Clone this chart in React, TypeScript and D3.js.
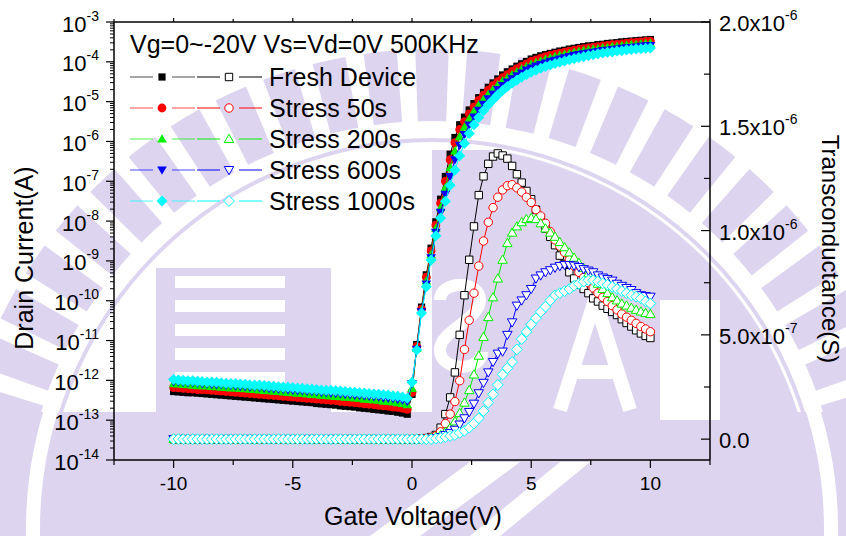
import React from 'react';
import * as d3 from 'd3';

// Gate sweep: -10 V to +10 V in 0.2 V steps (101 points)
const VG_START = -10;
const VG_STEP = 0.2;
const VG_COUNT = 101;

// Drain current, log10(A), one value per gate step
const idFresh = [
  -12.28, -12.29, -12.30, -12.31, -12.31, -12.32, -12.33, -12.34, -12.35, -12.36,
  -12.37, -12.38, -12.39, -12.40, -12.41, -12.42, -12.43, -12.44, -12.45, -12.46,
  -12.47, -12.48, -12.49, -12.50, -12.51, -12.52, -12.53, -12.54, -12.55, -12.56,
  -12.58, -12.59, -12.60, -12.61, -12.62, -12.64, -12.65, -12.66, -12.67, -12.69,
  -12.70, -12.71, -12.73, -12.74, -12.75, -12.77, -12.78, -12.80, -12.82, -12.85,
  -12.35, -11.10, -10.16, -9.35, -8.68, -8.02, -7.45, -6.88, -6.32, -5.90,
  -5.58, -5.39, -5.21, -5.05, -4.90, -4.77, -4.64, -4.53, -4.43, -4.33,
  -4.25, -4.18, -4.11, -4.05, -3.99, -3.93, -3.89, -3.85, -3.82, -3.79,
  -3.76, -3.73, -3.71, -3.68, -3.66, -3.64, -3.62, -3.60, -3.59, -3.57,
  -3.56, -3.54, -3.53, -3.52, -3.50, -3.49, -3.48, -3.47, -3.46, -3.45,
  -3.44,
];
const id50s = [
  -12.18, -12.19, -12.20, -12.21, -12.22, -12.23, -12.23, -12.24, -12.25, -12.26,
  -12.27, -12.28, -12.29, -12.30, -12.31, -12.32, -12.33, -12.34, -12.35, -12.36,
  -12.37, -12.38, -12.39, -12.40, -12.41, -12.42, -12.43, -12.44, -12.45, -12.46,
  -12.47, -12.48, -12.49, -12.50, -12.51, -12.53, -12.54, -12.55, -12.56, -12.57,
  -12.59, -12.60, -12.61, -12.63, -12.64, -12.65, -12.67, -12.68, -12.70, -12.73,
  -12.30, -11.15, -10.21, -9.41, -8.75, -8.10, -7.55, -7.00, -6.46, -6.03,
  -5.70, -5.50, -5.31, -5.13, -4.97, -4.84, -4.71, -4.60, -4.50, -4.40,
  -4.32, -4.24, -4.17, -4.11, -4.05, -3.99, -3.95, -3.91, -3.87, -3.84,
  -3.81, -3.78, -3.76, -3.73, -3.71, -3.69, -3.67, -3.65, -3.63, -3.62,
  -3.60, -3.59, -3.57, -3.56, -3.55, -3.53, -3.52, -3.51, -3.50, -3.49,
  -3.48,
];
const id200s = [
  -12.08, -12.09, -12.10, -12.11, -12.12, -12.13, -12.13, -12.14, -12.15, -12.16,
  -12.17, -12.18, -12.19, -12.19, -12.20, -12.21, -12.22, -12.23, -12.24, -12.25,
  -12.26, -12.27, -12.28, -12.29, -12.30, -12.31, -12.32, -12.33, -12.34, -12.35,
  -12.36, -12.37, -12.38, -12.39, -12.40, -12.41, -12.42, -12.43, -12.44, -12.45,
  -12.47, -12.48, -12.49, -12.50, -12.52, -12.53, -12.54, -12.56, -12.58, -12.61,
  -12.20, -11.20, -10.25, -9.50, -8.84, -8.18, -7.66, -7.16, -6.66, -6.24,
  -5.88, -5.64, -5.43, -5.24, -5.08, -4.94, -4.81, -4.69, -4.58, -4.48,
  -4.40, -4.32, -4.25, -4.18, -4.12, -4.06, -4.02, -3.98, -3.94, -3.90,
  -3.87, -3.84, -3.81, -3.79, -3.76, -3.74, -3.72, -3.70, -3.68, -3.67,
  -3.65, -3.64, -3.62, -3.61, -3.59, -3.58, -3.57, -3.56, -3.55, -3.54,
  -3.53,
];
const id600s = [
  -12.03, -12.04, -12.05, -12.06, -12.06, -12.07, -12.08, -12.09, -12.10, -12.11,
  -12.11, -12.12, -12.13, -12.14, -12.15, -12.16, -12.17, -12.17, -12.18, -12.19,
  -12.20, -12.21, -12.22, -12.23, -12.24, -12.25, -12.26, -12.26, -12.27, -12.28,
  -12.29, -12.30, -12.31, -12.32, -12.33, -12.34, -12.35, -12.36, -12.37, -12.38,
  -12.39, -12.40, -12.41, -12.42, -12.44, -12.45, -12.46, -12.48, -12.50, -12.53,
  -12.08, -11.22, -10.28, -9.58, -8.92, -8.28, -7.78, -7.33, -6.88, -6.46,
  -6.10, -5.83, -5.59, -5.39, -5.22, -5.07, -4.93, -4.81, -4.70, -4.60,
  -4.51, -4.43, -4.35, -4.28, -4.21, -4.16, -4.11, -4.07, -4.03, -3.99,
  -3.96, -3.93, -3.90, -3.87, -3.84, -3.82, -3.80, -3.78, -3.76, -3.74,
  -3.72, -3.71, -3.69, -3.68, -3.66, -3.65, -3.64, -3.63, -3.61, -3.60,
  -3.59,
];
const id1000s = [
  -11.98, -11.99, -12.00, -12.01, -12.01, -12.02, -12.03, -12.04, -12.04, -12.05,
  -12.06, -12.07, -12.08, -12.08, -12.09, -12.10, -12.11, -12.12, -12.12, -12.13,
  -12.14, -12.15, -12.16, -12.17, -12.17, -12.18, -12.19, -12.20, -12.21, -12.22,
  -12.23, -12.24, -12.25, -12.25, -12.26, -12.27, -12.28, -12.29, -12.30, -12.31,
  -12.32, -12.33, -12.34, -12.35, -12.36, -12.37, -12.39, -12.40, -12.42, -12.45,
  -12.05, -11.24, -10.31, -9.65, -8.98, -8.37, -7.92, -7.50, -7.10, -6.72,
  -6.36, -6.05, -5.80, -5.58, -5.40, -5.23, -5.08, -4.95, -4.83, -4.72,
  -4.62, -4.54, -4.46, -4.39, -4.32, -4.26, -4.21, -4.16, -4.12, -4.08,
  -4.04, -4.01, -3.98, -3.95, -3.92, -3.89, -3.87, -3.84, -3.82, -3.80,
  -3.78, -3.76, -3.75, -3.73, -3.72, -3.70, -3.69, -3.68, -3.67, -3.66,
  -3.65,
];

// Transconductance in µS, one value per gate step
const gmFresh = [
  0, 0, 0, 0, 0, 0, 0, 0, 0, 0, 0, 0, 0, 0, 0, 0, 0, 0, 0, 0, 0, 0, 0, 0, 0,
  0, 0, 0, 0, 0, 0, 0, 0, 0, 0, 0, 0, 0, 0, 0, 0, 0, 0, 0, 0, 0, 0, 0, 0, 0,
  0, 0, 0.002, 0.005, 0.01, 0.02, 0.055, 0.12, 0.20, 0.32,
  0.50, 0.69, 0.86, 1.02, 1.17, 1.26, 1.32, 1.355, 1.37, 1.36,
  1.345, 1.31, 1.27, 1.23, 1.19, 1.15, 1.10, 1.06, 1.01, 0.97,
  0.93, 0.88, 0.84, 0.80, 0.77, 0.74, 0.72, 0.70, 0.675, 0.66,
  0.64, 0.625, 0.61, 0.595, 0.575, 0.557, 0.54, 0.522, 0.507, 0.495,
  0.485,
];
const gm50s = [
  0, 0, 0, 0, 0, 0, 0, 0, 0, 0, 0, 0, 0, 0, 0, 0, 0, 0, 0, 0, 0, 0, 0, 0, 0,
  0, 0, 0, 0, 0, 0, 0, 0, 0, 0, 0, 0, 0, 0, 0, 0, 0, 0, 0, 0, 0, 0, 0, 0, 0,
  0, 0, 0.002, 0.004, 0.008, 0.015, 0.035, 0.075, 0.12, 0.18,
  0.28, 0.43, 0.57, 0.70, 0.83, 0.95, 1.04, 1.11, 1.16, 1.195,
  1.215, 1.22, 1.205, 1.185, 1.16, 1.135, 1.10, 1.07, 1.035, 0.995,
  0.955, 0.925, 0.895, 0.86, 0.83, 0.80, 0.775, 0.75, 0.725, 0.70,
  0.68, 0.66, 0.64, 0.62, 0.60, 0.585, 0.57, 0.555, 0.54, 0.528,
  0.515,
];
const gm200s = [
  0, 0, 0, 0, 0, 0, 0, 0, 0, 0, 0, 0, 0, 0, 0, 0, 0, 0, 0, 0, 0, 0, 0, 0, 0,
  0, 0, 0, 0, 0, 0, 0, 0, 0, 0, 0, 0, 0, 0, 0, 0, 0, 0, 0, 0, 0, 0, 0, 0, 0,
  0, 0, 0, 0.002, 0.005, 0.01, 0.02, 0.035, 0.055, 0.085,
  0.125, 0.175, 0.235, 0.31, 0.40, 0.49, 0.585, 0.68, 0.77, 0.86,
  0.94, 0.99, 1.02, 1.04, 1.055, 1.06, 1.055, 1.035, 1.01, 0.99,
  0.97, 0.945, 0.92, 0.895, 0.87, 0.845, 0.82, 0.795, 0.77, 0.745,
  0.72, 0.70, 0.68, 0.665, 0.65, 0.64, 0.63, 0.62, 0.612, 0.605,
  0.60,
];
const gm600s = [
  0, 0, 0, 0, 0, 0, 0, 0, 0, 0, 0, 0, 0, 0, 0, 0, 0, 0, 0, 0, 0, 0, 0, 0, 0,
  0, 0, 0, 0, 0, 0, 0, 0, 0, 0, 0, 0, 0, 0, 0, 0, 0, 0, 0, 0, 0, 0, 0, 0, 0,
  0, 0, 0, 0, 0.002, 0.005, 0.01, 0.02, 0.03, 0.045,
  0.07, 0.10, 0.13, 0.17, 0.22, 0.27, 0.32, 0.37, 0.41, 0.42,
  0.50, 0.56, 0.64, 0.665, 0.69, 0.72, 0.77, 0.785, 0.80, 0.81,
  0.822, 0.83, 0.835, 0.835, 0.832, 0.825, 0.815, 0.808, 0.80, 0.785,
  0.775, 0.768, 0.76, 0.745, 0.735, 0.725, 0.715, 0.70, 0.69, 0.686,
  0.683,
];
const gm1000s = [
  0, 0, 0, 0, 0, 0, 0, 0, 0, 0, 0, 0, 0, 0, 0, 0, 0, 0, 0, 0, 0, 0, 0, 0, 0,
  0, 0, 0, 0, 0, 0, 0, 0, 0, 0, 0, 0, 0, 0, 0, 0, 0, 0, 0, 0, 0, 0, 0, 0, 0,
  0, 0, 0, 0, 0, 0.002, 0.005, 0.01, 0.015, 0.02,
  0.03, 0.04, 0.055, 0.075, 0.10, 0.135, 0.175, 0.215, 0.26, 0.31,
  0.34, 0.37, 0.43, 0.48, 0.515, 0.55, 0.58, 0.61, 0.635, 0.665,
  0.69, 0.70, 0.71, 0.72, 0.735, 0.745, 0.755, 0.762, 0.762, 0.755,
  0.747, 0.74, 0.73, 0.72, 0.71, 0.70, 0.69, 0.683, 0.675, 0.66,
  0.65,
];

const seriesNames = ['Fresh Device', 'Stress 50s', 'Stress 200s', 'Stress 600s', 'Stress 1000s'];
const seriesColors = ['#000000', '#ff0000', '#00f000', '#0000ff', '#00ffff'];
const seriesShapes = ['square', 'circle', 'up', 'down', 'diamond'];
const idSeries = [idFresh, id50s, id200s, id600s, id1000s];
const gmSeries = [gmFresh, gm50s, gm200s, gm600s, gm1000s];

const leftDecades = [-14, -13, -12, -11, -10, -9, -8, -7, -6, -5, -4, -3];
const bottomTicks = [-10, -5, 0, 5, 10];
const bottomMinor = [-12.5, -7.5, -2.5, 2.5, 7.5, 12.5];
const rightTicks = [0, 5e-7, 1e-6, 1.5e-6, 2e-6];
const rightTickLabels: [string, string][] = [['0.0', ''], ['5.0x10', '-7'], ['1.0x10', '-6'], ['1.5x10', '-6'], ['2.0x10', '-6']];
const rightMinor = [2.5e-7, 7.5e-7, 1.25e-6, 1.75e-6];
const legendTitle = 'Vg=0~-20V Vs=Vd=0V 500KHz';

const W = 846;
const H = 536;
const FONT = '"Liberation Sans", Arial, Helvetica, sans-serif';
const WM = '#ddd5f0';

const x = d3.scaleLinear().domain([-12.5, 12.5]).range([114, 710]);
const yL = d3.scaleLog().domain([1e-14, 1e-3]).range([460, 22]);
const yR = d3.scaleLinear().domain([-1e-7, 2e-6]).range([460, 22]);

const vg = d3.range(VG_COUNT).map((i) => +(VG_START + i * VG_STEP).toFixed(2));

function markerPath(shape: string, s: number): string {
  switch (shape) {
    case 'square':
      return `M${-s},${-s}H${s}V${s}H${-s}Z`;
    case 'up':
      return `M0,${-s * 1.05}L${s * 1.05},${s * 0.78}L${-s * 1.05},${s * 0.78}Z`;
    case 'down':
      return `M0,${s * 1.05}L${s * 1.05},${-s * 0.78}L${-s * 1.05},${-s * 0.78}Z`;
    case 'diamond':
      return `M0,${-s * 1.2}L${s * 1.2},0L0,${s * 1.2}L${-s * 1.2},0Z`;
    default:
      return '';
  }
}

function Marker({ shape, filled, color, cx, cy }: { shape: string; filled: boolean; color: string; cx: number; cy: number }) {
  const s = filled ? 4 : 3.9;
  if (shape === 'circle') {
    return filled ? (
      <circle cx={cx} cy={cy} r={4.4} fill={color} />
    ) : (
      <circle cx={cx} cy={cy} r={4.2} fill="#fff" stroke={color} strokeWidth={1} />
    );
  }
  const d = markerPath(shape, shape === 'square' ? (filled ? 3.6 : 3.7) : s + 0.6);
  return filled ? (
    <path d={d} transform={`translate(${cx},${cy})`} fill={color} />
  ) : (
    <path d={d} transform={`translate(${cx},${cy})`} fill="#fff" stroke={color} strokeWidth={1} />
  );
}

function wedge(cx: number, cy: number, r0: number, r1: number, a0: number, a1: number): string {
  const p = (r: number, a: number) => {
    const t = (a * Math.PI) / 180;
    return `${(cx + r * Math.sin(t)).toFixed(1)},${(cy - r * Math.cos(t)).toFixed(1)}`;
  };
  return `M${p(r0, a0)}L${p(r1, a0)}A${r1},${r1} 0 0 1 ${p(r1, a1)}L${p(r0, a1)}A${r0},${r0} 0 0 0 ${p(r0, a0)}Z`;
}

// Faint seal printed behind the plot
function Seal() {
  const cx = 432;
  const cy = 529;
  const teeth = d3.range(-93, 94, 6.2);
  return (
    <g>
      <defs>
        <clipPath id="sealInner">
          <circle cx={cx} cy={cy} r={384} />
        </clipPath>
      </defs>
      <rect x={0} y={412} width={W} height={H - 412} fill={WM} />
      {teeth.map((a) => (
        <path key={a} d={wedge(cx, cy, 408, 480, a - 2, a + 2)} fill={WM} />
      ))}
      <circle cx={cx} cy={cy} r={399} fill="none" stroke="#fff" strokeWidth={14} />
      <circle cx={cx} cy={cy} r={389} fill="none" stroke={WM} strokeWidth={4} />
      <g clipPath="url(#sealInner)">
        <rect x={432} y={150} width={420} height={270} fill={WM} />
        <path d="M440,300 C440,280 480,280 480,300 C480,320 440,330 440,350 C440,372 482,372 482,352" fill="none" stroke="#fff" strokeWidth={12} />
        <path d="M560,410 L595,300 L630,410 M572,372 L618,372" fill="none" stroke="#fff" strokeWidth={14} />
        <rect x={660} y={300} width={60} height={120} fill="#fff" />
      </g>
      <rect x={156} y={268} width={175} height={144} fill={WM} />
      {[276, 300, 324, 348, 372].map((yy) => (
        <rect key={yy} x={175} y={yy} width={110} height={12} fill="#fff" />
      ))}
      <path d="M470,462L520,462L420,536L370,536Z" fill="#fff" />
      <path d="M560,462L590,462L500,536L470,536Z" fill="#fff" />
    </g>
  );
}

function Sup({ x: tx, y: ty, base, sup, anchor, size, supSize }: { x: number; y: number; base: string; sup: string; anchor: string; size: number; supSize: number }) {
  return (
    <text x={tx} y={ty} textAnchor={anchor as any} fontSize={size} fontFamily={FONT} fill="#000">
      {base}
      {sup && (
        <tspan dy={-11} fontSize={supSize}>
          {sup}
        </tspan>
      )}
    </text>
  );
}

export default function App() {
  const idLine = d3
    .line<number>()
    .x((_, i) => x(vg[i]))
    .y((d) => yL(Math.pow(10, d)));
  const gmLine = d3
    .line<number>()
    .x((_, i) => x(vg[i]))
    .y((d) => yR(d * 1e-6));

  const minorLog: number[] = [];
  leftDecades.slice(0, -1).forEach((e) => {
    for (let k = 2; k <= 9; k++) minorLog.push(k * Math.pow(10, e));
  });

  const legendRows = [77, 108, 139, 170, 201];

  return (
    <svg width={W} height={H} style={{ position: 'absolute', left: 0, top: 0, background: '#fff' }}>
      <Seal />

      {/* transconductance (open markers, right axis) */}
      {gmSeries.map((s, si) => (
        <g key={`gm${si}`}>
          <path d={gmLine(s) || ''} fill="none" stroke={seriesColors[si]} strokeWidth={1} />
          {s.map((v, i) => (
            <Marker key={i} shape={seriesShapes[si]} filled={false} color={seriesColors[si]} cx={x(vg[i])} cy={yR(v * 1e-6)} />
          ))}
        </g>
      ))}

      {/* drain current (filled markers, left axis) */}
      {idSeries.map((s, si) => (
        <g key={`id${si}`}>
          <path d={idLine(s) || ''} fill="none" stroke={seriesColors[si]} strokeWidth={1} />
          {s.map((v, i) => (
            <Marker key={i} shape={seriesShapes[si]} filled={true} color={seriesColors[si]} cx={x(vg[i])} cy={yL(Math.pow(10, v))} />
          ))}
        </g>
      ))}

      {/* frame */}
      <g stroke="#000" strokeWidth={1.5} fill="none">
        <line x1={114} y1={22} x2={710} y2={22} />
        <line x1={114} y1={460} x2={710} y2={460} />
        <line x1={114} y1={22} x2={114} y2={460} />
        <line x1={710} y1={22} x2={710} y2={460} />
      </g>

      {/* left log axis */}
      <g stroke="#000" strokeWidth={1.2}>
        {leftDecades.map((e) => (
          <line key={e} x1={106} x2={114} y1={yL(Math.pow(10, e))} y2={yL(Math.pow(10, e))} />
        ))}
        {minorLog.map((v, i) => (
          <line key={i} x1={110} x2={114} y1={yL(v)} y2={yL(v)} strokeWidth={1} />
        ))}
      </g>
      {leftDecades.map((e) => (
        <Sup key={e} x={99} y={yL(Math.pow(10, e)) + 9.5} base="10" sup={`${e}`} anchor="end" size={22} supSize={14} />
      ))}

      {/* bottom / top axis */}
      <g stroke="#000" strokeWidth={1.2}>
        {bottomTicks.map((t) => (
          <g key={t}>
            <line x1={x(t)} x2={x(t)} y1={460} y2={468} />
            <line x1={x(t)} x2={x(t)} y1={22} y2={18} />
          </g>
        ))}
        {bottomMinor.map((t) => (
          <g key={t}>
            <line x1={x(t)} x2={x(t)} y1={460} y2={465} />
            <line x1={x(t)} x2={x(t)} y1={22} y2={19} />
          </g>
        ))}
      </g>
      {bottomTicks.map((t) => (
        <text key={t} x={x(t)} y={490} textAnchor="middle" fontSize={19} fontFamily={FONT}>
          {`${t}`}
        </text>
      ))}

      {/* right linear axis */}
      <g stroke="#000" strokeWidth={1.2}>
        {rightTicks.map((t) => (
          <line key={t} x1={701} x2={710} y1={yR(t)} y2={yR(t)} />
        ))}
        {rightMinor.map((t) => (
          <line key={t} x1={704} x2={710} y1={yR(t)} y2={yR(t)} />
        ))}
      </g>
      {rightTicks.map((t, i) => (
        <Sup key={t} x={719} y={yR(t) + 9} base={rightTickLabels[i][0]} sup={rightTickLabels[i][1]} anchor="start" size={22} supSize={14} />
      ))}

      {/* axis titles */}
      <text x={413} y={525} textAnchor="middle" fontSize={25} fontFamily={FONT}>
        Gate Voltage(V)
      </text>
      <text transform="translate(33,258) rotate(-90)" textAnchor="middle" fontSize={25} fontFamily={FONT}>
        Drain Current(A)
      </text>
      <text transform="translate(822,249) rotate(90)" textAnchor="middle" fontSize={24} fontFamily={FONT}>
        Transconductance(S)
      </text>

      {/* legend */}
      <text x={130} y={53} fontSize={25} fontFamily={FONT}>
        {legendTitle}
      </text>
      {seriesNames.map((name, si) => {
        const ly = legendRows[si];
        const c = seriesColors[si];
        return (
          <g key={name}>
            <g stroke={c} strokeWidth={1}>
              <line x1={130} x2={153} y1={ly} y2={ly} strokeOpacity={0.7} />
              <line x1={172} x2={195} y1={ly} y2={ly} strokeOpacity={0.7} />
              <line x1={197} x2={220} y1={ly} y2={ly} />
              <line x1={239} x2={262} y1={ly} y2={ly} />
            </g>
            <Marker shape={seriesShapes[si]} filled={true} color={c} cx={162} cy={ly} />
            <Marker shape={seriesShapes[si]} filled={false} color={c} cx={229} cy={ly} />
            <text x={269} y={ly + 9} fontSize={25} fontFamily={FONT}>
              {name}
            </text>
          </g>
        );
      })}
    </svg>
  );
}
